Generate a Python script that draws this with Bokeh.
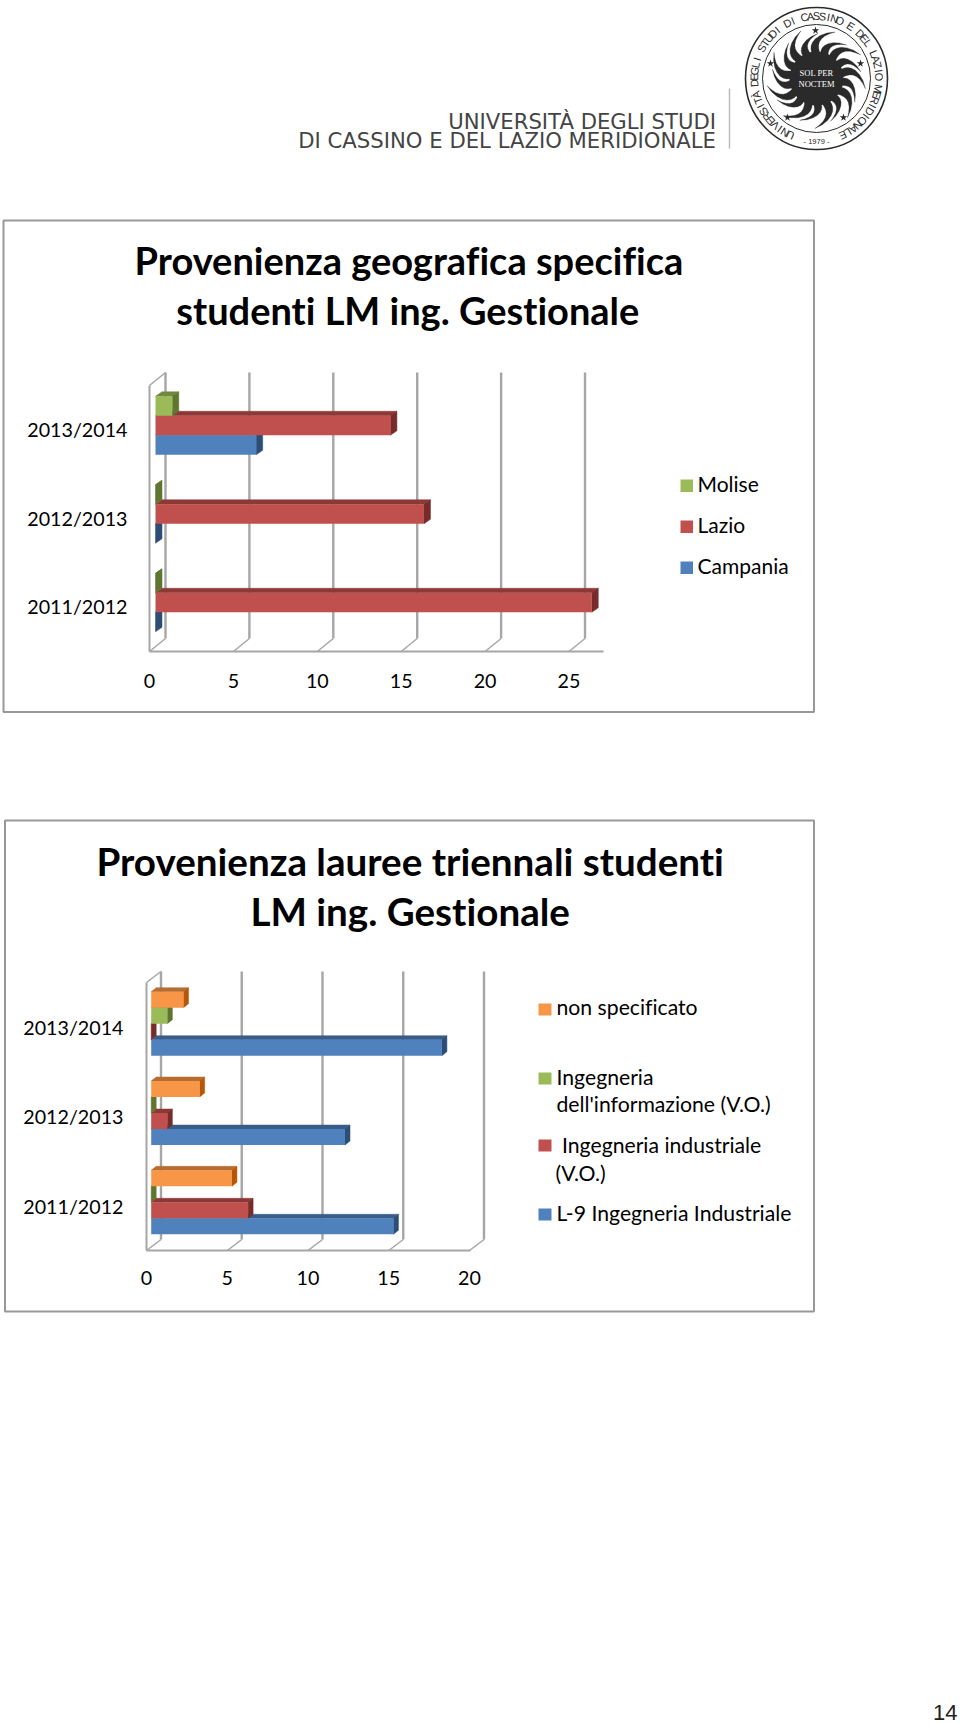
import math
from bokeh.embed import file_html
from bokeh.resources import INLINE
from bokeh.plotting import figure
from bokeh.models import Range1d, LinearAxis, FixedTicker, InlineStyleSheet
from bokeh.core.properties import value

# ---------- data ----------
years = ["2011/2012", "2012/2013", "2013/2014"]

c1_title = ["Provenienza geografica specifica", "studenti LM ing. Gestionale"]
c1_ticks = [0, 5, 10, 15, 20, 25]
c1_campania = [0, 0, 6]
c1_lazio = [26, 16, 14]
c1_molise = [0, 0, 1]

c2_title = ["Provenienza lauree triennali studenti", "LM ing. Gestionale"]
c2_ticks = [0, 5, 10, 15, 20]
c2_l9 = [15, 12, 18]
c2_industriale = [6, 1, 0]
c2_informazione = [0, 0, 1]
c2_nonspec = [5, 3, 2]

BLUE = ("#4F81BD", "#385D8A", "#2C4D75")
RED = ("#C0504D", "#8C3836", "#772C2A")
GREEN = ("#9BBB59", "#71893F", "#5F7530")
ORANGE = ("#F79646", "#B66D31", "#B65708")
GRID = "#A6A6A6"
FONT = "Lato"

W, H = 960, 1724
p = figure(width=W, height=H, x_range=Range1d(0, W), y_range=Range1d(H, 0),
           toolbar_location=None, output_backend="svg", min_border=0,
           background_fill_color="white",
           border_fill_color="white", outline_line_color=None)
p.stylesheets = [InlineStyleSheet(css=":host { font-variant-ligatures: none; }")]
p.xaxis.visible = False
p.yaxis.visible = False
p.grid.visible = False


def txt(x, y, s, size, align="left", font=FONT, style="normal", color="#000000", angle=0.0):
    p.text(x=[x], y=[y], text=[s], text_font=value(font), text_font_size=f"{size}px",
           text_font_style=style, text_color=color, text_align=align,
           text_baseline="middle", angle=[angle])


# ---------- logo ----------
p.segment([729], [88], [729], [148], line_color="#BBBBBB", line_width=1.5)
txt(715.5, 120.5, "UNIVERSITÀ DEGLI STUDI", 21.2, "right", "DejaVu Sans", color="#444444")
txt(715.5, 140, "DI CASSINO E DEL LAZIO MERIDIONALE", 21.2, "right", "DejaVu Sans", color="#444444")

CX, CY = 816, 78
INK = "#2a2a2a"
p.circle([CX], [CY], radius=71, fill_color=None, line_color=INK, line_width=1.6)
p.circle([CX], [CY], radius=54, fill_color=None, line_color=INK, line_width=1)

# flame rays
n_rays = 18
for i in range(n_rays):
    a0 = 2 * math.pi * i / n_rays
    tip_r = 50 if i % 2 == 0 else 45
    hw = 0.17
    xs, ys = [], []
    for k in range(9):
        t = k / 8
        r = 23 + (tip_r - 23) * t
        a = a0 - hw * (1 - t) + 0.38 * t * t - 0.12 * math.sin(math.pi * t)
        xs.append(CX + r * math.sin(a))
        ys.append(CY - r * math.cos(a))
    for k in range(8, -1, -1):
        t = k / 8
        r = 23 + (tip_r - 23) * t
        a = a0 + hw * (1 - t) ** 0.7 + 0.38 * t * t - 0.12 * math.sin(math.pi * t)
        xs.append(CX + r * math.sin(a))
        ys.append(CY - r * math.cos(a))
    p.patch(xs, ys, fill_color=INK, line_color=INK, line_width=0.3)
p.circle([CX], [CY], radius=27, fill_color=INK, line_color=None)

star_x = [815, 770, 860, 787, 843]
star_y = [30, 63, 63, 117, 117]
p.scatter(star_x, star_y, marker="star", size=8, fill_color=INK, line_color=None)

txt(CX, CY - 5.5, "SOL PER", 8.5, "center", "Liberation Serif", color="#ffffff")
txt(CX, CY + 5, "NOCTEM", 8.5, "center", "Liberation Serif", color="#ffffff")

ring = "UNIVERSITÀ DEGLI STUDI DI CASSINO E DEL LAZIO MERIDIONALE"
start, end = 205.0, 515.0
step = (end - start) / (len(ring) - 1)
for i, ch in enumerate(ring):
    th = math.radians(start + i * step)
    txt(CX + 62.5 * math.sin(th), CY - 62.5 * math.cos(th), ch, 11, "center",
        "Liberation Sans", color=INK, angle=-th)
txt(CX, CY + 62.5, "- 1979 -", 7.5, "center", "Liberation Sans", color=INK)


# ---------- panels and charts ----------
def panel(x0, y0, x1, y1):
    p.quad(left=[x0], right=[x1], top=[y0], bottom=[y1], fill_color="white",
           line_color="#989898", line_width=2)


def chart(tag, x0, k, ticks, y0, dy, series, bar_h, bar_x0, depth_x, depth_y, group_shift,
          top_px, floor_px, back_floor_px, wall_top_px, back_dx, floor_end_px, font_px,
          y_standoff, x_standoff):
    xr, yr = tag + "x", tag + "y"
    p.extra_x_ranges[xr] = Range1d((0 - x0) / k, (W - x0) / k)
    p.extra_y_ranges[yr] = Range1d((y0 - H) / dy, (y0 - 0) / dy)
    kw = dict(x_range_name=xr, y_range_name=yr)
    py = lambda px: (y0 - px) / dy      # page pixel row in category units
    gx = back_dx / k

    # back-wall gridlines and floor diagonals
    p.segment([t + gx for t in ticks], [py(top_px)] * len(ticks),
              [t + gx for t in ticks], [py(back_floor_px)] * len(ticks),
              line_color=GRID, line_width=2.4, **kw)
    p.segment(ticks, [py(floor_px)] * len(ticks), [t + gx for t in ticks], [py(back_floor_px)] * len(ticks),
              line_color=GRID, line_width=1.5, **kw)
    p.segment([0], [py(wall_top_px)], [gx], [py(top_px)], line_color=GRID, line_width=1.5, **kw)

    # axes
    ax = LinearAxis(x_range_name=xr, fixed_location=floor_px, ticker=FixedTicker(ticks=ticks),
                    bounds=(0, (floor_end_px - x0) / k), major_tick_line_color=None,
                    minor_tick_line_color=None, axis_line_color=GRID, axis_line_width=2,
                    major_label_text_font=FONT, major_label_text_font_size=f"{font_px}px",
                    major_label_text_color="#000000", major_label_standoff=x_standoff)
    p.add_layout(ax, "below")
    ay = LinearAxis(y_range_name=yr, fixed_location=x0, ticker=FixedTicker(ticks=[0, 1, 2]),
                    major_label_overrides=dict(enumerate(years)),
                    bounds=(py(floor_px), py(wall_top_px)), major_tick_line_color=None,
                    minor_tick_line_color=None, axis_line_color=GRID, axis_line_width=2,
                    major_label_text_font=FONT, major_label_text_font_size=f"{font_px}px",
                    major_label_text_color="#000000", major_label_standoff=y_standoff,
                    major_label_orientation="horizontal")
    p.add_layout(ay, "left")

    # bars: bottom series first, so that upper fronts cover lower top faces
    n = len(series)
    h = bar_h / dy
    base = (bar_x0 - x0) / k
    dxu, dyu = depth_x / k, depth_y / dy
    shift = group_shift / dy
    for j, (vals, (front, top, side)) in enumerate(series):
        lows, highs, lefts, rights = [], [], [], []
        tx, ty, sx, sy = [], [], [], []
        for c, v in enumerate(vals):
            low = c + shift + (j - n / 2) * h
            high = low + h
            left, right = base, base + v
            lows.append(low); highs.append(high); lefts.append(left); rights.append(right)
            tx.append([left, left + dxu, right + dxu, right])
            ty.append([high, high + dyu, high + dyu, high])
            sx.append([right, right + dxu, right + dxu, right])
            sy.append([low, low + dyu, high + dyu, high])
        p.patches(tx, ty, fill_color=top, line_color=top, line_width=0.5, **kw)
        p.patches(sx, sy, fill_color=side, line_color=side, line_width=0.5, **kw)
        p.quad(left=lefts, right=rights, top=highs, bottom=lows, fill_color=front,
               line_color=None, **kw)


# chart 1
panel(3, 220, 813.5, 711.5)
txt(408, 259.7, c1_title[0], 38, "center", style="bold")
txt(408, 309.7, c1_title[1], 38, "center", style="bold")
chart("c1", 149, 16.78, c1_ticks, 606, 88.5,
      [(c1_campania, BLUE), (c1_lazio, RED), (c1_molise, GREEN)],
      19.5, 155, 6.5, 4.5, 4, 372, 651, 638, 385, 16, 603, 19.7, 16, 16)
for yy, col, lab in ((485, GREEN, "Molise"), (526, RED, "Lazio"), (567, BLUE, "Campania")):
    p.quad(left=[680], right=[692.5], top=[yy - 6], bottom=[yy + 6.5], fill_color=col[0], line_color=None)
    txt(697, yy - 2, lab, 21)

# chart 2
panel(4.5, 820, 813.5, 1311)
txt(410, 860, c2_title[0], 38.6, "center", style="bold")
txt(410, 910, c2_title[1], 38.6, "center", style="bold")
chart("c2", 146, 16.15, c2_ticks, 1205.6, 89.3,
      [(c2_l9, BLUE), (c2_industriale, RED), (c2_informazione, GREEN), (c2_nonspec, ORANGE)],
      16, 150.7, 5, 4, 3.8, 971, 1250, 1239, 982, 14.5, 470, 19.7, 17, 14)
for yy, col in ((1009, ORANGE), (1078, GREEN), (1145, RED), (1214, BLUE)):
    p.quad(left=[538], right=[551], top=[yy - 6], bottom=[yy + 6], fill_color=col[0], line_color=None)
for x, yy, lab in ((556, 1006.5, "non specificato"), (556, 1076, "Ingegneria"),
                   (556, 1103.5, "dell'informazione (V.O.)"), (561.5, 1144, "Ingegneria industriale"),
                   (555, 1172, "(V.O.)"), (556, 1212, "L-9 Ingegneria Industriale")):
    txt(x, yy, lab, 21.2)

# page number
txt(957, 1712, "14", 22, "right", "Liberation Sans", color="#222222")

open("out.html", "w").write(file_html(p, INLINE))
